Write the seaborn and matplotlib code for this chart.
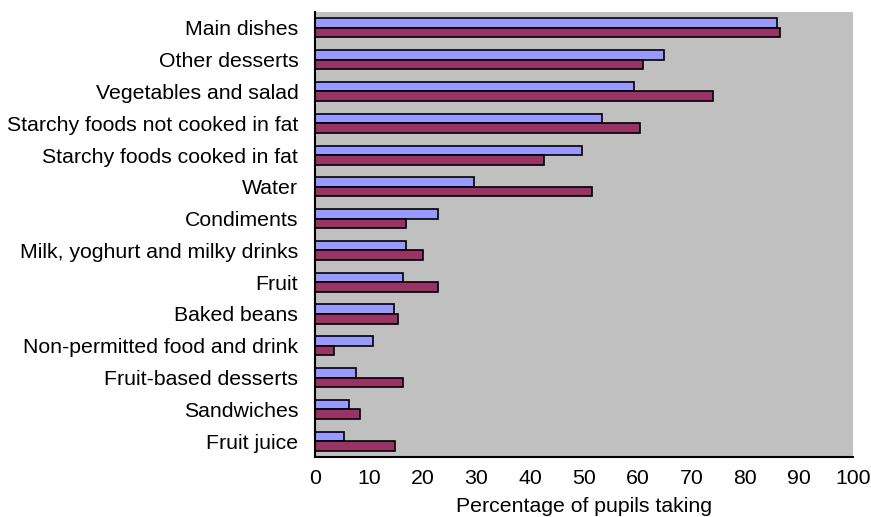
import matplotlib
matplotlib.use("Agg")
import matplotlib.pyplot as plt
import seaborn as sns
import pandas as pd
import numpy as np
from matplotlib.ticker import FixedLocator

categories = ["Main dishes", "Other desserts", "Vegetables and salad",
              "Starchy foods not cooked in fat", "Starchy foods cooked in fat",
              "Water", "Condiments", "Milk, yoghurt and milky drinks", "Fruit",
              "Baked beans", "Non-permitted food and drink", "Fruit-based desserts",
              "Sandwiches", "Fruit juice"]
series_a = [85.8, 64.9, 59.3, 53.3, 49.7, 29.6, 22.8, 16.9, 16.3, 14.7, 10.7, 7.7, 6.4, 5.3]
series_b = [86.4, 61.0, 74.0, 60.5, 42.5, 51.5, 16.9, 20.0, 22.9, 15.5, 3.5, 16.3, 8.3, 14.9]
series_names = ["Series 1", "Series 2"]
xticks = [0, 10, 20, 30, 40, 50, 60, 70, 80, 90, 100]

df = pd.DataFrame({
    "category": categories * 2,
    "value": series_a + series_b,
    "series": [series_names[0]] * len(categories) + [series_names[1]] * len(categories),
})

sns.set_style("white")
plt.rcParams["font.family"] = ["Liberation Sans", "DejaVu Sans"]
plt.rcParams["text.color"] = "black"
plt.rcParams["axes.labelcolor"] = "black"
plt.rcParams["xtick.color"] = "black"
plt.rcParams["ytick.color"] = "black"

fs = 15.3

fig = plt.figure(figsize=(8.71, 5.17), dpi=100)
ax = fig.add_axes([315 / 871, 1 - 457 / 517, (853 - 315) / 871, (457 - 12) / 517])
ax.set_facecolor("#C0C0C0")

sns.barplot(data=df, y="category", x="value", hue="series", order=categories,
            hue_order=series_names, palette=["#9999FF", "#993366"], saturation=1,
            orient="h", width=0.6, gap=0, edgecolor="black", linewidth=1.2,
            legend=False, ax=ax, errorbar=None)

ax.set_xlim(0, 100)
ax.set_ylim(len(categories) - 0.5, -0.5)
ax.set_xticks(xticks)
ax.set_xticklabels([str(t) for t in xticks], fontsize=fs)
ax.set_yticks(range(len(categories)))
ax.set_yticklabels(categories, fontsize=fs)
ax.yaxis.set_minor_locator(FixedLocator(np.arange(-0.5, len(categories), 1.0)))
ax.tick_params(axis="y", which="major", length=0, pad=12)
ax.tick_params(axis="y", which="minor", length=4, direction="in", color="black", width=1)
ax.tick_params(axis="x", which="major", length=5, direction="in", color="black", width=1, pad=9)
ax.set_xlabel("Percentage of pupils taking", fontsize=fs, labelpad=6)
ax.set_ylabel("")

for s in ["top", "right"]:
    ax.spines[s].set_visible(False)
for s in ["left", "bottom"]:
    ax.spines[s].set_color("black")
    ax.spines[s].set_linewidth(1.5)

fig.savefig("out.png", dpi=100)
